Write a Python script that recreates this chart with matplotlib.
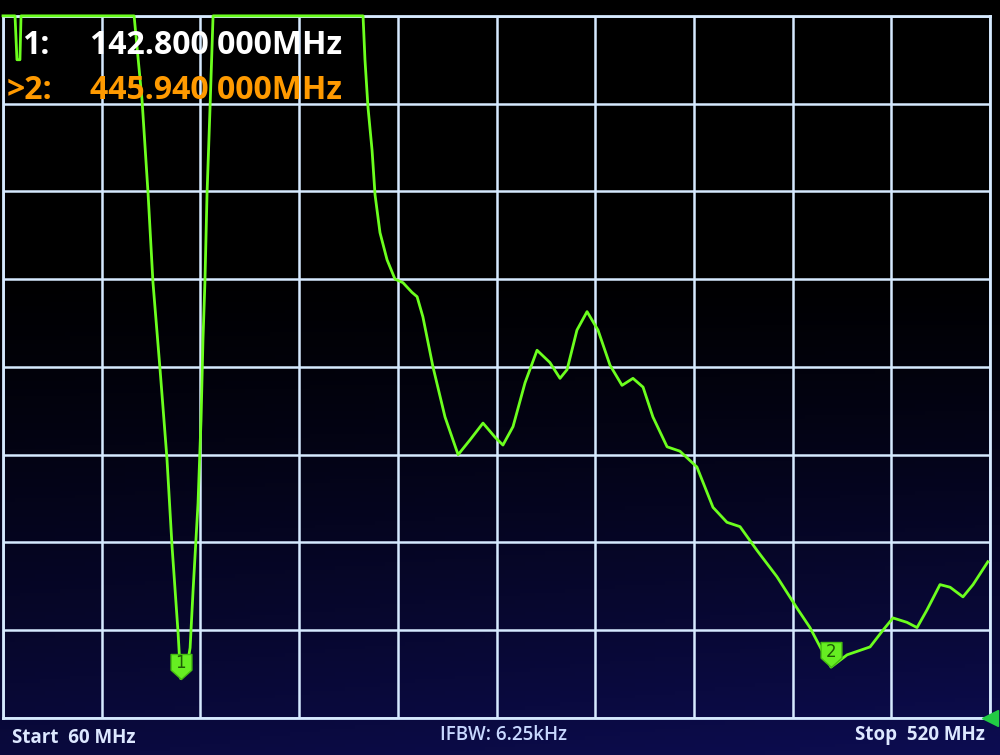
import numpy as np
import matplotlib
matplotlib.use("Agg")
import matplotlib.pyplot as plt
from matplotlib.path import Path

# sweep settings
start_mhz = 60
stop_mhz = 520
n_div_x = 10
n_div_y = 8

# trace, level in screen divisions above the bottom line (8 = clipped at top)
freq_mhz = [60.0, 65.6, 66.5, 67.9, 68.4, 121.1, 124.8, 127.6, 129.9, 133.2,
            136.4, 138.8, 141.6, 142.8, 145.5, 147.2, 148.6, 150.9, 152.3, 153.2,
            154.1, 155.1, 156.5, 157.9, 227.8, 228.7, 230.1, 232.0, 233.4, 235.7,
            239.0, 242.7, 246.4, 250.6, 253.0, 255.7, 260.4, 266.0, 272.1, 277.7,
            283.7, 289.3, 293.0, 297.7, 303.3, 308.9, 314.9, 319.6, 322.9, 327.5,
            332.2, 337.3, 342.9, 348.5, 353.6, 358.3, 362.9, 369.5, 375.5, 383.4,
            390.9, 397.4, 403.5, 411.4, 420.7, 430.1, 436.1, 441.7, 445.9, 453.4,
            464.1, 470.1, 474.8, 481.3, 486.0, 490.6, 496.7, 501.4, 507.4, 512.1,
            519.0]
level_div = [8.0, 8.0, 7.5, 7.5, 8.0, 8.0, 7.04, 5.98, 4.96, 3.97,
             2.96, 1.95, 0.97, 0.45, 0.55, 0.80, 1.46, 2.45, 3.40, 4.31,
             4.96, 5.98, 6.96, 8.0, 8.0, 7.5, 6.96, 6.47, 5.96, 5.53,
             5.22, 5.0, 4.96, 4.85, 4.80, 4.57, 4.00, 3.43, 3.00, 3.17,
             3.36, 3.20, 3.11, 3.32, 3.82, 4.19, 4.05, 3.87, 3.97, 4.42,
             4.63, 4.42, 4.02, 3.79, 3.87, 3.77, 3.43, 3.09, 3.04, 2.86,
             2.40, 2.23, 2.18, 1.91, 1.61, 1.25, 1.03, 0.77, 0.58, 0.72,
             0.81, 1.00, 1.14, 1.09, 1.03, 1.23, 1.52, 1.49, 1.38, 1.52,
             1.78]

# markers
marker_ids = ["1", "2"]
marker_freq = [142.8, 445.94]
marker_level = [0.45, 0.58]
marker_text = ["142.800 000MHz", "445.940 000MHz"]
marker_prefix = ["1:", ">2:"]
marker_color = ["white", "#ff9a00"]

bottom_left = "Start  60 MHz"
bottom_mid = "IFBW: 6.25kHz"
bottom_right = "Stop  520 MHz"

trace_green = "#6cff1e"
grid_col = "#d6eaff"

fig = plt.figure(figsize=(10, 7.55), dpi=100)
fig.patch.set_facecolor("black")

# screen background: black on top fading to dark navy at the bottom
bg = fig.add_axes([0, 0, 1, 1])
yy, xx = np.mgrid[0:1:200j, 0:1:200j]
w = np.clip((yy - 0.35) / 0.65, 0, 1) ** 1.2 * (0.75 + 0.25 * xx)
top = np.array([0.0, 0.0, 0.0])
bot = np.array([0.05, 0.05, 0.32])
img = top[None, None, :] * (1 - w[..., None]) + bot[None, None, :] * w[..., None]
bg.imshow(img, extent=[0, 1, 0, 1], aspect="auto", origin="upper")
bg.set_axis_off()

ax = fig.add_axes([0.003, 0.049, 0.987, 0.930])
ax.set_facecolor("none")
ax.set_xlim(start_mhz, stop_mhz)
ax.set_ylim(0, n_div_y)
for s in ax.spines.values():
    s.set_color(grid_col)
    s.set_linewidth(2)
ax.set_xticks(np.linspace(start_mhz, stop_mhz, n_div_x + 1))
ax.set_yticks(np.arange(0, n_div_y + 1))
ax.tick_params(length=0, labelbottom=False, labelleft=False)
ax.grid(True, color=grid_col, linewidth=1.8)
ax.set_axisbelow(True)

ax.plot(freq_mhz, level_div, color=trace_green, linewidth=2.0, clip_on=False, zorder=3)

# marker flags (down-pointing pentagon with the tip on the trace)
flag = Path([(-1, 2.4), (1, 2.4), (1, 0.9), (0, 0), (-1, 0.9), (-1, 2.4)],
            [Path.MOVETO, Path.LINETO, Path.LINETO, Path.LINETO, Path.LINETO, Path.CLOSEPOLY])
for mid, mf, ml in zip(marker_ids, marker_freq, marker_level):
    ax.plot([mf], [ml], marker=flag, markersize=36, color="#66ee22",
            markeredgecolor="#44bb11", linestyle="none", zorder=5)
    ax.annotate(mid, (mf, ml), xytext=(0, 11), textcoords="offset points",
                ha="center", va="center", fontsize=12, color="#1d5a05",
                family="DejaVu Sans", zorder=6)

# small reference arrow at the right edge
ax.plot([stop_mhz], [0], marker="<", markersize=11, color="#22cc44",
        clip_on=False, zorder=6)

# marker readout in top-left
for i in range(2):
    y = 0.940 - i * 0.060
    fig.text(0.007 if i else 0.022, y, marker_prefix[i], color=marker_color[i],
             fontsize=23, family="Open Sans", fontweight="bold", va="center")
    fig.text(0.090, y, marker_text[i], color=marker_color[i],
             fontsize=23, family="Open Sans", fontweight="bold", va="center")

# bottom status line
fig.text(0.012, 0.022, bottom_left, color="#dde8ff", fontsize=13.5,
         family="Open Sans", fontweight="bold", va="center")
fig.text(0.503, 0.026, bottom_mid, color="#c8d8ff", fontsize=13.5,
         family="Open Sans", fontweight="semibold", va="center", ha="center")
fig.text(0.985, 0.026, bottom_right, color="#dde8ff", fontsize=13.5,
         family="Open Sans", fontweight="bold", va="center", ha="right")

fig.savefig("out.png", dpi=100, facecolor=fig.get_facecolor())
